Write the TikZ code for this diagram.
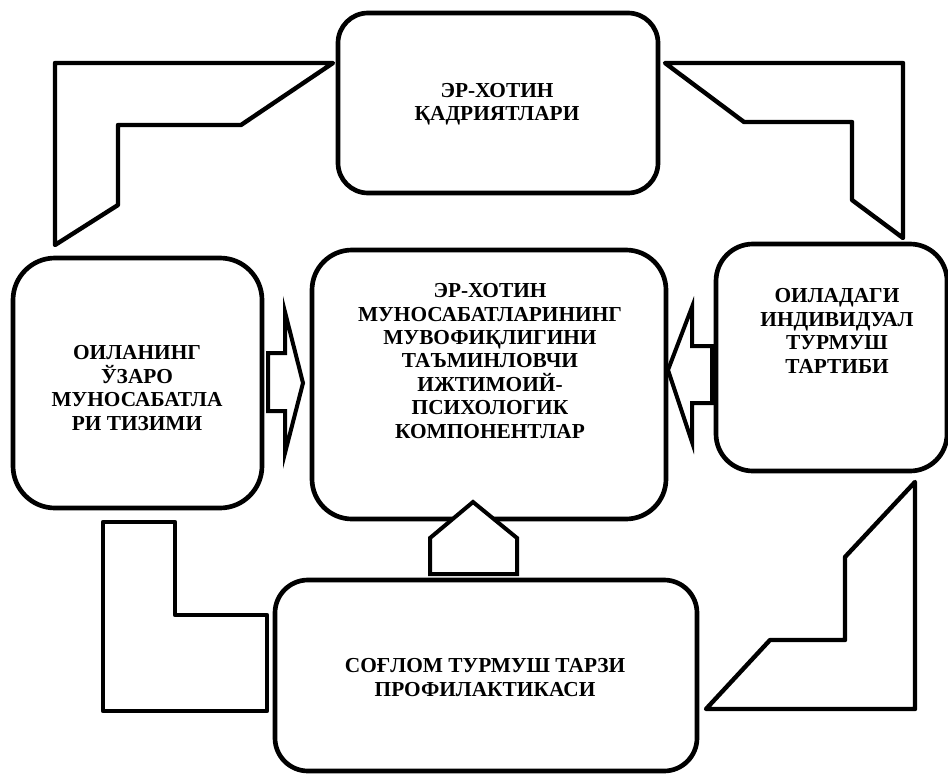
\documentclass[tikz,border=0pt]{standalone}
\usepackage{fontspec}
\setmainfont{Liberation Serif}
\newfontfamily\capfont{Liberation Serif}[BoldFont={Liberation Serif Bold}]
\begin{document}
\begin{tikzpicture}[x=0.75pt,y=-0.75pt,
  box/.style={draw=black,line width=3.5pt,fill=white,inner sep=0pt,rectangle},
  txt/.style={align=center,font=\capfont\bfseries\fontsize{16}{17.6}\selectfont,inner sep=0pt},
  bent/.style={draw=black,line width=3.3pt,line join=round,fill=white},
  blockarrow/.style={draw=black,line width=3pt,line join=miter,fill=white}]
\useasboundingbox (0,0) rectangle (948,774);

% boxes
\node[box,minimum width=240pt,minimum height=135pt,rounded corners=22.5pt] (top) at (498,103) {};
\node[box,minimum width=186.75pt,minimum height=187.5pt,rounded corners=31.5pt] (left) at (137.5,383) {};
\node[box,minimum width=265.5pt,minimum height=201.75pt,rounded corners=30pt] (center) at (489,384.5) {};
\node[box,minimum width=173.25pt,minimum height=170.25pt,rounded corners=27.75pt] (right) at (831.5,357.5) {};
\node[box,minimum width=316.5pt,minimum height=143.25pt,rounded corners=24.75pt] (bottom) at (486,675.5) {};

% texts
\node[txt] (toptxt) at (497,104) {ЭР-ХОТИН\\ҚАДРИЯТЛАРИ};
\node[txt] (centertxt) at (490,361) {ЭР-ХОТИН\\МУНОСАБАТЛАРИНИНГ\\МУВОФИҚЛИГИНИ\\ТАЪМИНЛОВЧИ\\ИЖТИМОИЙ-\\ПСИХОЛОГИК\\КОМПОНЕНТЛАР};
\node[txt] (lefttxt) at (137,388) {ОИЛАНИНГ\\ЎЗАРО\\МУНОСАБАТЛА\\РИ ТИЗИМИ};
\node[txt] (righttxt) at (837,331) {ОИЛАДАГИ\\ИНДИВИДУАЛ\\ТУРМУШ\\ТАРТИБИ};
\node[txt] (bottomtxt) at (485,677.5) {СОҒЛОМ ТУРМУШ ТАРЗИ\\ПРОФИЛАКТИКАСИ};

% bent arrows between outer boxes
\draw[bent] (55,63) -- (333,63) -- (241,125) -- (118,125) -- (118,205) -- (55,245) -- cycle;
\draw[bent] (665,63) -- (903,63) -- (903,238) -- (852,200) -- (852,122) -- (744,122) -- cycle;
\draw[bent] (103,522) -- (175,522) -- (175,615) -- (267,615) -- (267,711) -- (103,711) -- cycle;
\draw[bent] (915,482) -- (915,709) -- (706,709) -- (770,640) -- (845,640) -- (845,557) -- cycle;

% block arrows into the centre box
\draw[blockarrow] (268,353) -- (285,353) -- (285,312) -- (303,383) -- (285,453) -- (285,411) -- (268,411) -- cycle;
\draw[blockarrow] (712,346) -- (692,346) -- (692,307) -- (668,370) -- (692,442) -- (692,403) -- (712,403) -- cycle;
\draw[blockarrow] (430,574) -- (430,538) -- (473,502) -- (517,538) -- (517,574) -- cycle;
\end{tikzpicture}
\end{document}
